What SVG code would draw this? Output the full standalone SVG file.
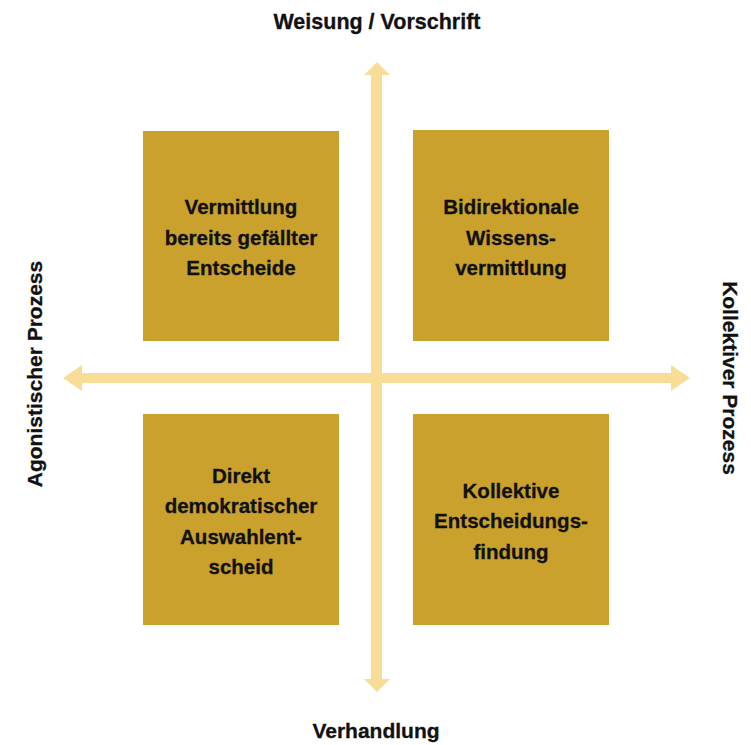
<svg xmlns="http://www.w3.org/2000/svg" width="751" height="745" viewBox="0 0 751 745">
<style>
.box{fill:#c9a12c}
.ax{fill:#f8dd96}
.t{font-family:"Liberation Sans",Arial,sans-serif;font-weight:bold;font-size:20.5px;fill:#111;stroke:#111;stroke-width:0.3;text-anchor:middle}
.l{font-family:"Liberation Sans",Arial,sans-serif;font-weight:bold;font-size:21px;fill:#111;stroke:#111;stroke-width:0.3;text-anchor:middle}
</style>
<rect width="751" height="745" fill="#fff"/>
<g id="connectors">
<polygon class="ax" points="371,75 364,75 377,62 390,75 382,75 382,679 390,679 377,692 364,679 371,679"/>
<polygon class="ax" points="82,373 82,365 63,378 82,391 82,383 671,383 671,391 690,378 671,365 671,373"/>
</g>
<g id="n1"><rect class="box" x="143" y="131" width="196" height="210"/>
<text class="t"><tspan x="241" y="214">Vermittlung</tspan><tspan x="241" y="245">bereits gefällter</tspan><tspan x="241" y="275">Entscheide</tspan></text></g>
<g id="n2"><rect class="box" x="413" y="130" width="196" height="211"/>
<text class="t"><tspan x="511" y="214">Bidirektionale</tspan><tspan x="511" y="245">Wissens-</tspan><tspan x="511" y="275">vermittlung</tspan></text></g>
<g id="n3"><rect class="box" x="143" y="414" width="196" height="211"/>
<text class="t"><tspan x="241" y="483">Direkt</tspan><tspan x="241" y="513">demokratischer</tspan><tspan x="241" y="544">Auswahlent-</tspan><tspan x="241" y="574">scheid</tspan></text></g>
<g id="n4"><rect class="box" x="413" y="414" width="196" height="211"/>
<text class="t"><tspan x="511" y="498">Kollektive</tspan><tspan x="511" y="528">Entscheidungs-</tspan><tspan x="511" y="559">findung</tspan></text></g>
<g id="labels">
<text class="l" x="377" y="29" style="font-size:21.5px">Weisung / Vorschrift</text>
<text class="l" x="376" y="738">Verhandlung</text>
<text class="l" transform="translate(42,374) rotate(-90)">Agonistischer Prozess</text>
<text class="l" transform="translate(723,378) rotate(90)">Kollektiver Prozess</text>
</g>
</svg>
